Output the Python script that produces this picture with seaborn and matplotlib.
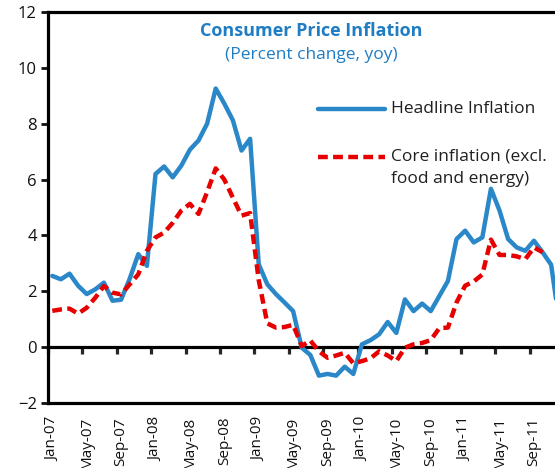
import pandas as pd
import matplotlib
matplotlib.use("Agg")
import matplotlib.pyplot as plt
from matplotlib.lines import Line2D
import seaborn as sns

# 월별 데이터 (Jan-07 ~ Dec-11), 그림에서 읽은 값
months = pd.date_range("2007-01-01", "2011-12-01", freq="MS")
headline = [2.55, 2.43, 2.63, 2.20, 1.90, 2.07, 2.31, 1.66, 1.70, 2.45, 3.33, 2.91,
            6.20, 6.47, 6.08, 6.50, 7.07, 7.40, 8.00, 9.26, 8.72, 8.12, 7.04, 7.46,
            2.97, 2.25, 1.90, 1.60, 1.29, -0.02, -0.28, -1.02, -0.96, -1.02, -0.70, -0.96,
            0.10, 0.25, 0.46, 0.90, 0.51, 1.71, 1.29, 1.56, 1.29, 1.83, 2.37, 3.87,
            4.17, 3.75, 3.93, 5.67, 4.89, 3.87, 3.57, 3.45, 3.81, 3.40, 2.95, 0.80]
core = [1.30, 1.35, 1.38, 1.20, 1.41, 1.77, 2.19, 1.95, 1.89, 2.25, 2.61, 3.45,
        3.93, 4.10, 4.45, 4.89, 5.13, 4.77, 5.55, 6.40, 6.00, 5.35, 4.71, 4.80,
        2.40, 0.85, 0.70, 0.72, 0.80, 0.04, 0.24, -0.15, -0.38, -0.30, -0.20, -0.58,
        -0.50, -0.40, -0.15, -0.30, -0.50, -0.02, 0.10, 0.15, 0.25, 0.68, 0.70, 1.60,
        2.20, 2.35, 2.60, 3.85, 3.30, 3.30, 3.25, 3.15, 3.57, 3.40]
tick_labels = [m.strftime("%b-%y") for m in months[::4]]

name_h = "Headline Inflation"
name_c = "Core inflation (excl."
name_c2 = "food and energy)"
blue = "#2A87C8"
red = "#E60000"
dash = (2.2, 1.2)

df = pd.concat([
    pd.DataFrame({"t": range(len(headline)), "value": headline, "series": name_h}),
    pd.DataFrame({"t": range(len(core)), "value": core, "series": name_c}),
])

sns.set_style("white")
plt.rcParams["font.family"] = ["Open Sans", "DejaVu Sans"]

W, H = 555, 468
fig = plt.figure(figsize=(W / 100, H / 100), dpi=100)
left, bottom, top = 48 / W, 1 - 403 / H, 1 - 12 / H
ax = fig.add_axes([left, bottom, 1 - left, top - bottom])

sns.lineplot(data=df, x="t", y="value", hue="series", style="series",
             palette={name_h: blue, name_c: red},
             dashes={name_h: "", name_c: dash},
             linewidth=3.2, legend=False, ax=ax)

ax.set_xlim(-0.5, 58.45)
ax.set_ylim(-2, 12)
ax.set_yticks(range(-2, 13, 2))
ax.set_xticks(range(0, len(months), 4))
ax.set_xticklabels(tick_labels, rotation=90)
ax.set_xlabel("")
ax.set_ylabel("")
ax.tick_params(axis="x", length=0, pad=10, labelsize=11, colors="#111111")
ax.tick_params(axis="y", direction="out", length=5, width=2, labelsize=12,
               pad=3, colors="#111111", left=True)
for s in ["left", "top", "bottom"]:
    ax.spines[s].set_linewidth(2.3)
    ax.spines[s].set_color("black")
ax.spines["right"].set_visible(False)

# 0 위치의 가로축 (눈금은 범주 경계)
zero_ax = ax.secondary_xaxis(2 / 14)
zero_ax.set_xticks([i - 0.5 for i in range(0, len(months), 4)])
zero_ax.tick_params(direction="out", length=5, width=2.3, labelbottom=False)
zero_ax.spines["bottom"].set_linewidth(2.3)
zero_ax.spines["bottom"].set_color("black")

title_col = "#1F7DC4"
fig.text(311.5 / W, 1 - 31 / H, "Consumer Price Inflation", ha="center", va="center",
         fontsize=13, fontweight="bold", color=title_col)
fig.text(311.5 / W, 1 - 55 / H, "(Percent change, yoy)", ha="center", va="center",
         fontsize=12.5, color=title_col)

# 범례 (직접 배치)
txt_col = "#1f1f1f"
fig.add_artist(Line2D([318 / W, 385 / W], [1 - 109 / H] * 2, color=blue, lw=3.2,
                      transform=fig.transFigure))
fig.add_artist(Line2D([318 / W, 385 / W], [1 - 157 / H] * 2, color=red, lw=3.2,
                      dashes=dash, transform=fig.transFigure))
fig.text(391 / W, 1 - 109 / H, name_h, va="center", fontsize=12.5, color=txt_col)
fig.text(391 / W, 1 - 157 / H, name_c, va="center", fontsize=12.5, color=txt_col)
fig.text(391 / W, 1 - 179 / H, name_c2, va="center", fontsize=12.5, color=txt_col)

fig.savefig("out.png", dpi=100)
